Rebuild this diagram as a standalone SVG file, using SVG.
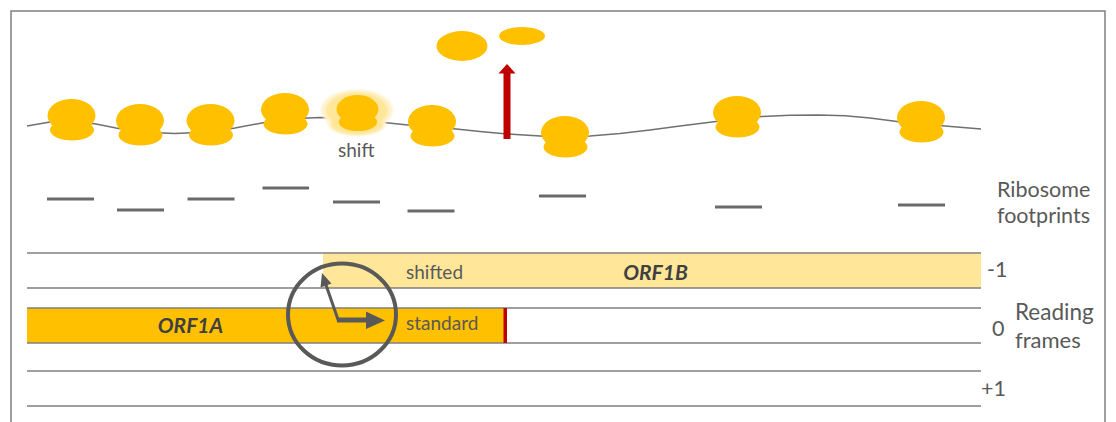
<svg xmlns="http://www.w3.org/2000/svg" width="1116" height="422" viewBox="0 0 1116 422">
  <style>
    .lbl { font-family: Lato, "Liberation Sans", sans-serif; fill: #595959; }
    .side { font-size: 21.5px; }
    .small { font-size: 19px; }
    .orf { font-family: Lato, "Liberation Sans", sans-serif; font-size: 21px; font-weight: bold; font-style: italic; fill: #404040; }
    .rna { fill: none; stroke: #707070; stroke-width: 1.5; stroke-linejoin: round; }
    .fp { stroke: #6a6a6a; stroke-width: 3; }
    .frame { stroke: #7f7f7f; stroke-width: 1.5; }
    .ribo { fill: #ffc000; }
  </style>
  <defs>
    <!-- ribosome: large subunit on top, small subunit below; origin = top centre -->
    <g id="ribosome">
      <ellipse cx="0" cy="16.5" rx="24" ry="16.5"/>
      <ellipse cx="0.5" cy="31" rx="22" ry="10.5"/>
    </g>
    <filter id="soft" x="-30%" y="-30%" width="160%" height="160%">
      <feGaussianBlur stdDeviation="1.2"/>
    </filter>
  </defs>

  <rect x="11" y="11" width="1094" height="430" fill="#ffffff" stroke="#7f7f7f" stroke-width="1.5"/>

  <!-- mRNA strand -->
  <g id="mrna">
    <polyline class="rna" points="27,126 50,122 72,121 96,124 116,128 140,132 175,133.5 210,132 235,128 262,123 285,119 320,117.5 357,118 379,122 408,125 432,127 456,129 480,131.5 507,134 540,136 565,137 590,136 620,133.5 650,130 680,126 712,122 737,119 762,116.5 790,115.3 819,115 845,115.8 870,118 897,121.5 921,124 945,126 981,129"/>
  </g>

  <!-- glow around the shifting ribosome -->
  <g id="shift-glow" filter="url(#soft)">
    <ellipse cx="357" cy="110" rx="36" ry="20.5" fill="#fff2cc"/>
    <ellipse cx="357" cy="124" rx="29" ry="12" fill="#fff2cc"/>
    <ellipse cx="357" cy="110.5" rx="31" ry="18" fill="#ffe699"/>
    <ellipse cx="357" cy="124" rx="26" ry="10.5" fill="#ffe699"/>
  </g>

  <!-- ribosomes on the strand -->
  <g id="ribosomes" class="ribo">
    <use id="rib1" href="#ribosome" transform="translate(71.5,99)"/>
    <use id="rib2" href="#ribosome" transform="translate(140,104)"/>
    <use id="rib3" href="#ribosome" transform="translate(210.5,104)"/>
    <use id="rib4" href="#ribosome" transform="translate(285,93)"/>
    <use id="rib5" href="#ribosome" transform="translate(357.5,95) scale(0.87)"/>
    <use id="rib6" href="#ribosome" transform="translate(432,105)"/>
    <use id="rib7" href="#ribosome" transform="translate(565,116)"/>
    <use id="rib8" href="#ribosome" transform="translate(737,96)"/>
    <use id="rib9" href="#ribosome" transform="translate(921,101)"/>
  </g>

  <!-- released subunits -->
  <g id="released" class="ribo">
    <ellipse cx="462" cy="46" rx="25.5" ry="15"/>
    <ellipse cx="522" cy="36" rx="23" ry="9"/>
  </g>

  <!-- termination arrow -->
  <g id="release-arrow" fill="#c00000">
    <rect x="503.5" y="72" width="7" height="67"/>
    <polygon points="498.5,73.5 507,64 515.5,73.5"/>
  </g>

  <text class="lbl small" x="338" y="157">shift</text>

  <!-- footprints -->
  <g id="footprints">
    <line class="fp" x1="47" y1="199" x2="94" y2="199"/>
    <line class="fp" x1="117" y1="210" x2="164" y2="210"/>
    <line class="fp" x1="187.5" y1="199" x2="234.5" y2="199"/>
    <line class="fp" x1="262.5" y1="188" x2="309" y2="188"/>
    <line class="fp" x1="333" y1="202" x2="380" y2="202"/>
    <line class="fp" x1="407.5" y1="211" x2="454.5" y2="211"/>
    <line class="fp" x1="539" y1="196" x2="586" y2="196"/>
    <line class="fp" x1="715" y1="207" x2="762" y2="207"/>
    <line class="fp" x1="898" y1="205" x2="945" y2="205"/>
  </g>
  <g id="footprints-label" class="lbl side">
    <text x="997" y="197">Ribosome</text>
    <text x="997" y="223">footprints</text>
  </g>

  <!-- reading frames -->
  <g id="frame-minus1">
    <rect x="323" y="253" width="658" height="35" fill="#ffe699"/>
    <line class="frame" x1="27" y1="253" x2="981" y2="253"/>
    <line class="frame" x1="27" y1="288" x2="981" y2="288"/>
    <text class="lbl small" x="406" y="279">shifted</text>
    <text class="orf" x="655.5" y="280" text-anchor="middle">ORF1B</text>
    <text class="lbl side" x="987" y="277">-1</text>
  </g>
  <g id="frame-0">
    <rect x="27" y="308" width="478" height="35" fill="#ffc000"/>
    <line class="frame" x1="27" y1="308" x2="981" y2="308"/>
    <line class="frame" x1="27" y1="343" x2="981" y2="343"/>
    <rect x="503.5" y="308" width="3.5" height="35" fill="#c00000"/>
    <text class="lbl small" x="406" y="330">standard</text>
    <text class="orf" x="190.5" y="333" text-anchor="middle">ORF1A</text>
    <text class="lbl side" x="992" y="336">0</text>
    <text class="lbl side" x="1015" y="320" style="font-size:22.5px">Reading</text>
    <text class="lbl side" x="1015" y="348" style="font-size:22px">frames</text>
  </g>
  <g id="frame-plus1">
    <line class="frame" x1="27" y1="371" x2="981" y2="371"/>
    <line class="frame" x1="27" y1="406" x2="981" y2="406"/>
    <text class="lbl side" x="981" y="396">+1</text>
  </g>

  <!-- clock marking the switch between frames -->
  <g id="clock" fill="#595959">
    <ellipse cx="342" cy="314.5" rx="54" ry="51" fill="none" stroke="#595959" stroke-width="4"/>
    <line x1="337" y1="320" x2="368" y2="320" stroke="#595959" stroke-width="5"/>
    <polygon points="366,311.5 385,320.5 366,329"/>
    <line x1="338.5" y1="321" x2="326" y2="285" stroke="#595959" stroke-width="3"/>
    <polygon points="322,273 331.5,283.5 320.5,287.5"/>
  </g>
</svg>
